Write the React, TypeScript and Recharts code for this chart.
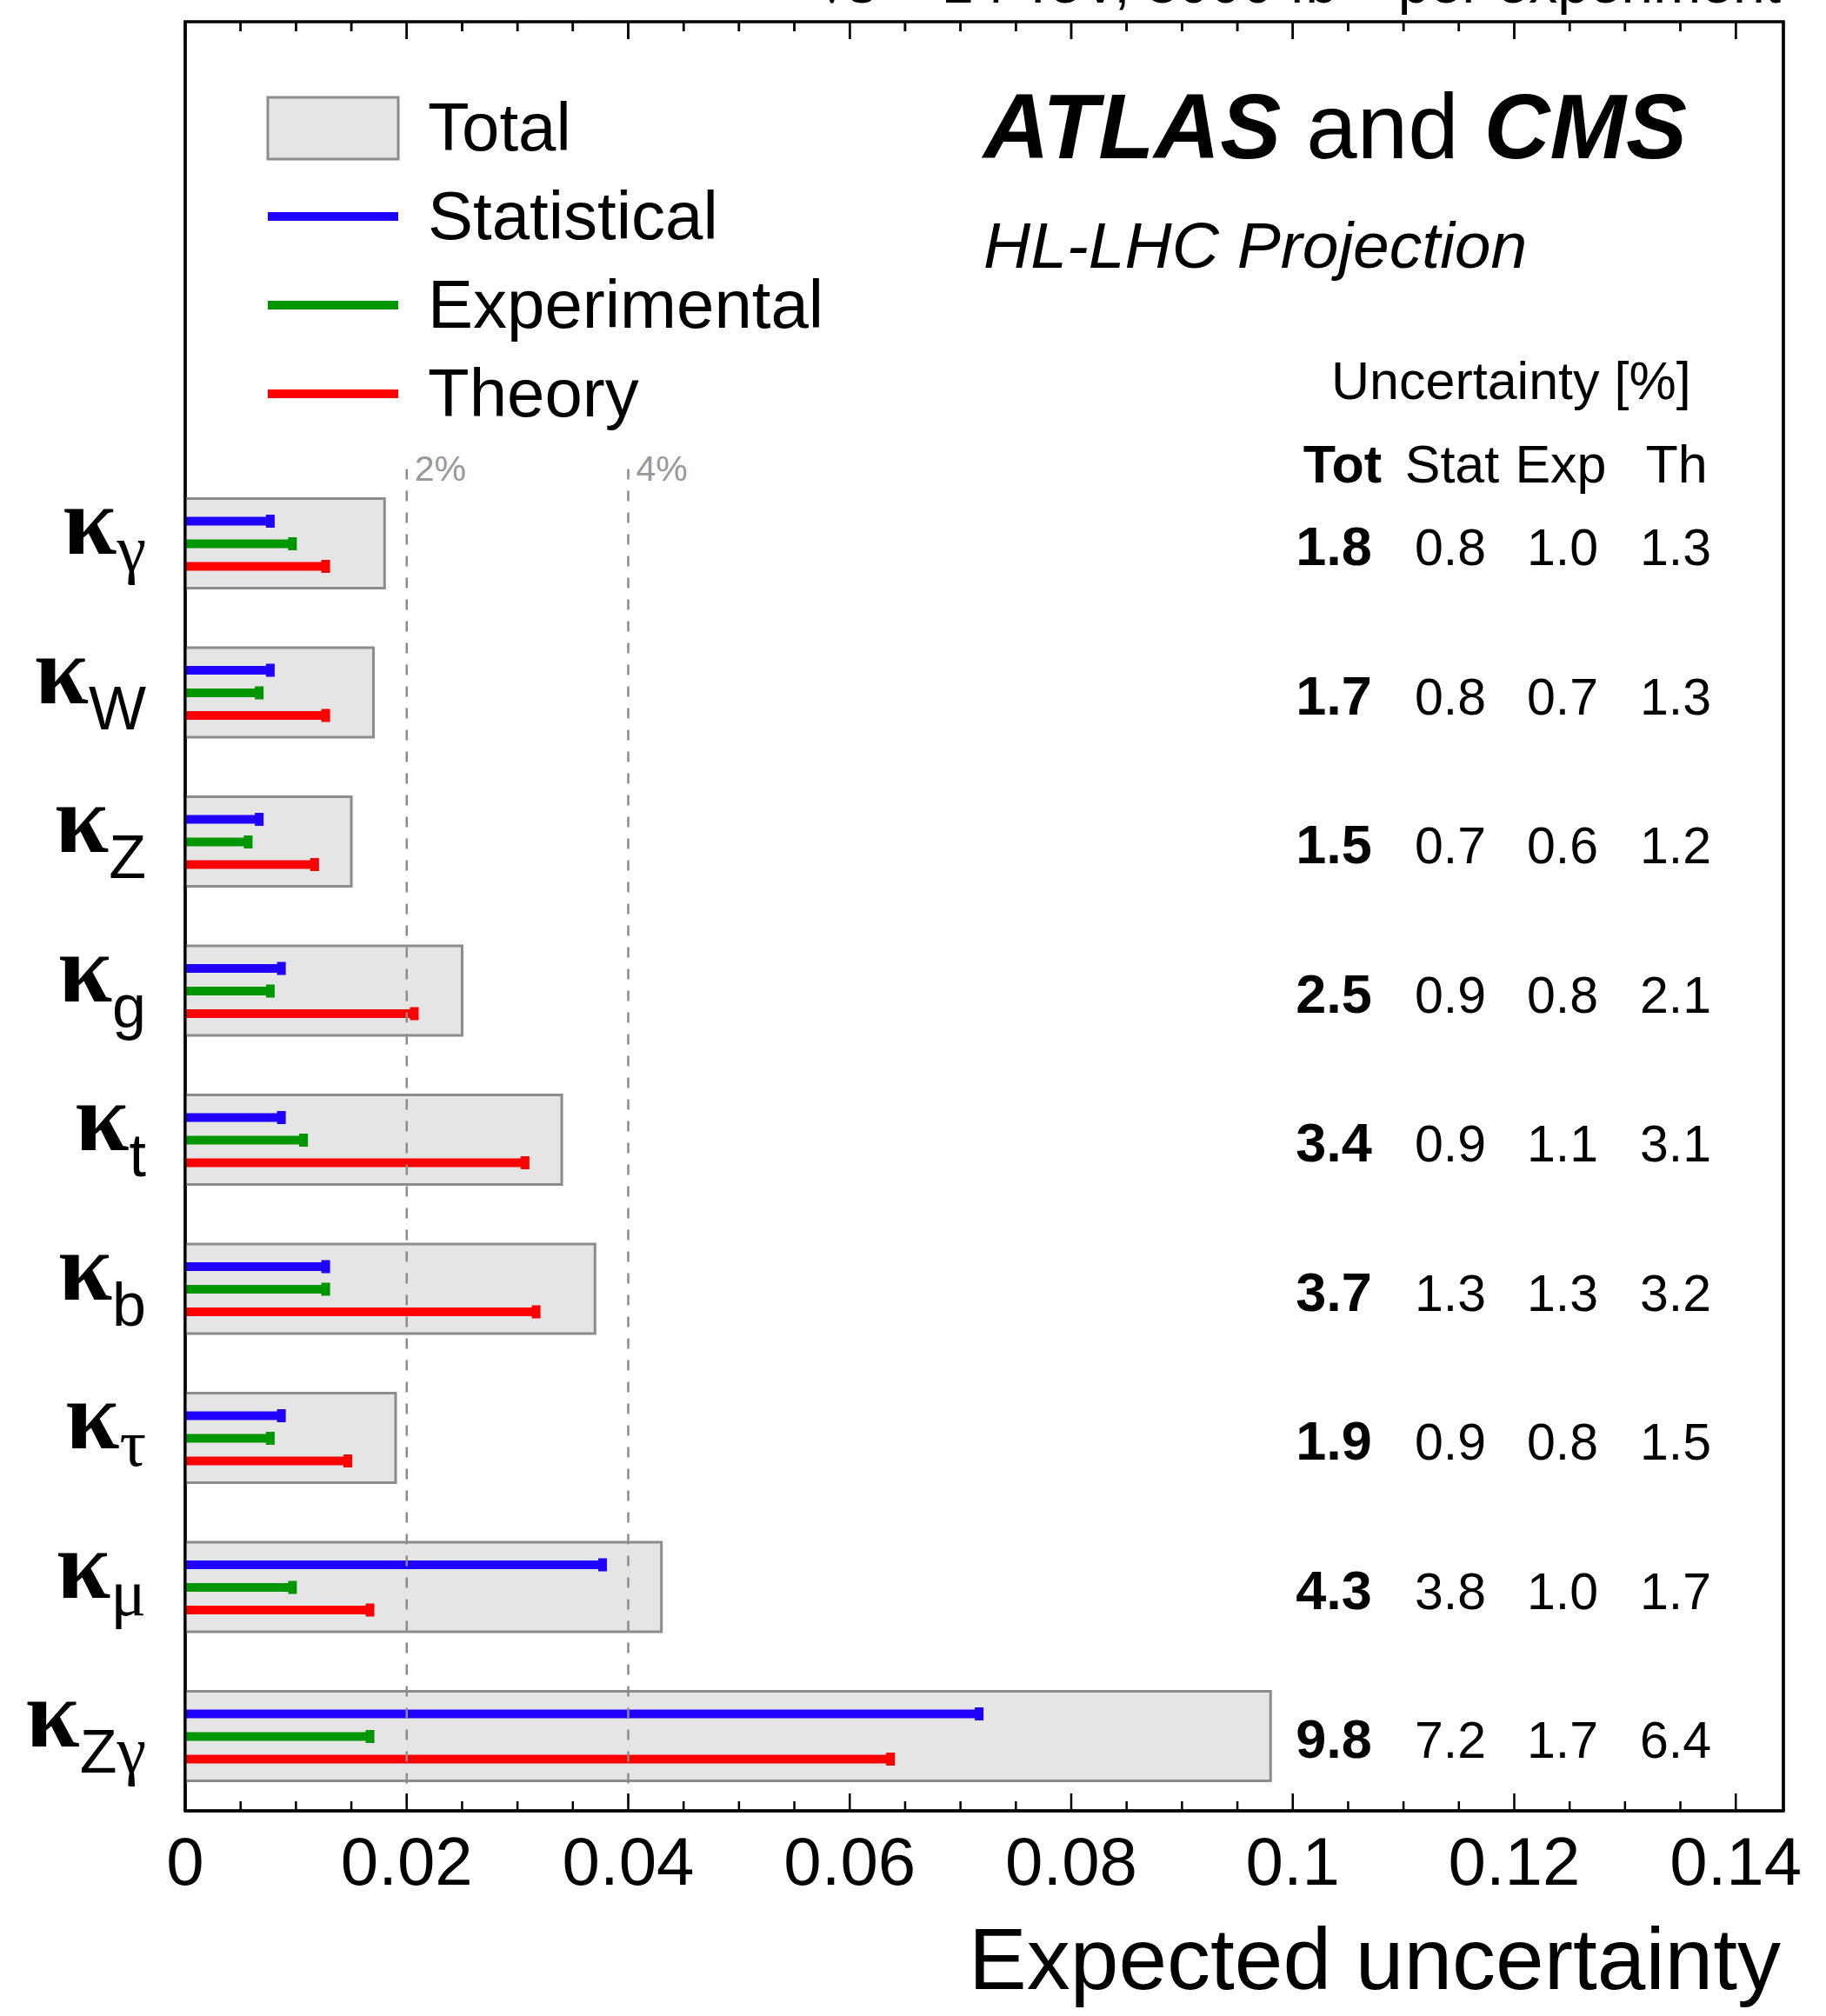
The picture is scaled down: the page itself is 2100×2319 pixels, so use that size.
import React from 'react';
import {
  ComposedChart,
  Bar,
  Scatter,
  XAxis,
  YAxis,
  ReferenceLine,
  ReferenceDot,
  ReferenceArea,
  Legend,
  Label,
} from 'recharts';

// Couplings, top to bottom, and their expected uncertainties in percent
const COUPLINGS = ['γ', 'W', 'Z', 'g', 't', 'b', 'τ', 'μ', 'Zγ'];
const TOTAL = [1.8, 1.7, 1.5, 2.5, 3.4, 3.7, 1.9, 4.3, 9.8];
const STAT = [0.8, 0.8, 0.7, 0.9, 0.9, 1.3, 0.9, 3.8, 7.2];
const EXPERIMENTAL = [1.0, 0.7, 0.6, 0.8, 1.1, 1.3, 0.8, 1.0, 1.7];
const THEORY = [1.3, 1.3, 1.2, 2.1, 3.1, 3.2, 1.5, 1.7, 6.4];

const MAJOR_TICKS = [0, 0.02, 0.04, 0.06, 0.08, 0.1, 0.12, 0.14];
const MAJOR_TICK_LABELS = ['0', '0.02', '0.04', '0.06', '0.08', '0.1', '0.12', '0.14'];
const GUIDES = [0.02, 0.04];
const GUIDE_LABELS = ['2%', '4%'];

const LEGEND_ITEMS = [
  { name: 'Total', kind: 'box', color: '#e5e5e5' },
  { name: 'Statistical', kind: 'line', color: '#2000ff' },
  { name: 'Experimental', kind: 'line', color: '#009600' },
  { name: 'Theory', kind: 'line', color: '#ff0000' },
];

const X_MAX = 0.1443;
const Y_MAX = 12;
const GUIDE_TOP = 9;

// chart geometry
const CHART_W = 2100;
const CHART_H = 2319;
const MARGIN_TOP = 25;
const X_AXIS_H = 236;
const PLOT_H = CHART_H - MARGIN_TOP - X_AXIS_H;
const MAJOR_LEN = 20;
const MINOR_LEN = 11;

const SANS = '"Liberation Sans", Arial, Helvetica, sans-serif';
const SERIF = '"Liberation Serif", "Times New Roman", serif';
const BLUE = LEGEND_ITEMS[1].color;
const GREEN = LEGEND_ITEMS[2].color;
const RED = LEGEND_ITEMS[3].color;

// one row per coupling, placed on unit slots counted up from the bottom axis
const ROW_POS = COUPLINGS.map((_, i) => COUPLINGS.length - i - 0.5);
const rows = COUPLINGS.map((c, i) => ({
  name: c,
  pos: ROW_POS[i],
  total: TOTAL[i] / 100,
  stat: STAT[i] / 100,
  exp: EXPERIMENTAL[i] / 100,
  th: THEORY[i] / 100,
}));

// major ticks every 0.02, three minor ticks in between
const ALL_TICKS: number[] = MAJOR_TICKS.flatMap((t, i) =>
  i < MAJOR_TICKS.length - 1
    ? [0, 1, 2, 3].map((k) => Number((t + (k * (MAJOR_TICKS[1] - MAJOR_TICKS[0])) / 4).toFixed(4)))
    : [t]
);

const majorIndex = (v: number) => MAJOR_TICKS.findIndex((t) => Math.abs(t - v) < 1e-7);
const rowIndex = (v: number) => ROW_POS.findIndex((p) => Math.abs(p - v) < 1e-7);
const isGreek = (ch: string) => /[\u0370-\u03ff]/.test(ch);

// anchor points of the tick marks along the top frame
const topTickPoints = ALL_TICKS.map((t) => ({ total: t, pos: Y_MAX, major: majorIndex(t) >= 0 }));

// inward tick mark on the bottom frame with its label underneath
function XTick(props: any) {
  const { x, y, payload } = props;
  const m = majorIndex(payload.value);
  return (
    <g>
      <line x1={x} x2={x} y1={y} y2={y - (m >= 0 ? MAJOR_LEN : MINOR_LEN)} stroke="#000" strokeWidth={2.5} />
      {m >= 0 && (
        <text x={x} y={y + 85} textAnchor="middle" fontSize={78} fontFamily={SANS} fill="#000">
          {MAJOR_TICK_LABELS[m]}
        </text>
      )}
    </g>
  );
}

function TopTickMark(props: any) {
  const { cx, cy, payload } = props;
  const len = payload && payload.major ? MAJOR_LEN : MINOR_LEN;
  return <line x1={cx} x2={cx} y1={cy} y2={cy + len} stroke="#000" strokeWidth={2.5} />;
}

function CouplingTick(props: any) {
  const { x, y, payload } = props;
  const idx = rowIndex(payload.value);
  if (idx < 0) return null;
  const parts = Array.from(COUPLINGS[idx]);
  const allGreek = parts.every(isGreek);
  return (
    <text x={x - 45} y={y + 12} textAnchor="end" fill="#000">
      <tspan fontFamily={SERIF} fontWeight="bold" fontSize={112}>
        κ
      </tspan>
      {parts.map((ch, k) => (
        <tspan
          key={k}
          dy={k === 0 ? (allGreek ? 20 : 30) : 0}
          fontFamily={isGreek(ch) ? SERIF : SANS}
          fontSize={isGreek(ch) ? 76 : 70}
        >
          {ch}
        </tspan>
      ))}
    </text>
  );
}

// numeric table drawn next to the right frame, one line per coupling
function ValuesTick(props: any) {
  const { x, y, payload } = props;
  const idx = rowIndex(payload.value);
  if (idx < 0) return null;
  const cols = [
    { dx: -517, v: TOTAL[idx], bold: true },
    { dx: -383, v: STAT[idx], bold: false },
    { dx: -254, v: EXPERIMENTAL[idx], bold: false },
    { dx: -124, v: THEORY[idx], bold: false },
  ];
  return (
    <g>
      {cols.map((c, k) => (
        <text
          key={k}
          x={x + c.dx}
          y={y + 25}
          textAnchor="middle"
          fontFamily={SANS}
          fontWeight={c.bold ? 'bold' : 'normal'}
          fontSize={c.bold ? 63 : 59}
          fill="#000"
        >
          {c.v.toFixed(1)}
        </text>
      ))}
    </g>
  );
}

function TotalBox(props: any) {
  const { x, y, width, height } = props;
  return <rect x={x} y={y} width={width} height={height} fill="#e5e5e5" stroke="#8c8c8c" strokeWidth={3} />;
}

function Whisker(props: any) {
  const { x, y, width, height, fill } = props;
  const cy = y + height / 2;
  return (
    <g>
      <rect x={x} y={y} width={Math.max(width, 0)} height={height} fill={fill} />
      <rect x={x + width - 9} y={cy - 7.5} width={10} height={15} fill={fill} />
    </g>
  );
}

function LegendGraphic() {
  return (
    <svg width={720} height={420}>
      {LEGEND_ITEMS.map((it, i) => {
        const cy = 52 + i * 102;
        return (
          <g key={it.name}>
            {it.kind === 'box' ? (
              <rect x={18} y={cy - 35} width={150} height={71} fill={it.color} stroke="#8c8c8c" strokeWidth={3} />
            ) : (
              <rect x={18} y={cy - 5} width={150} height={10} fill={it.color} />
            )}
            <text x={202} y={cy + 26} fontFamily={SANS} fontSize={78} fill="#000">
              {it.name}
            </text>
          </g>
        );
      })}
    </svg>
  );
}

function AxisTitle(props: any) {
  const vb = props.viewBox;
  return (
    <text x={vb.x + vb.width - 3} y={vb.y + 205} textAnchor="end" fontFamily={SANS} fontSize={100} fill="#000">
      Expected uncertainty
    </text>
  );
}

export default function App() {
  const frame = { stroke: '#000', strokeWidth: 3 };
  const unitsPerPx = Y_MAX / PLOT_H;
  return (
    <div style={{ position: 'absolute', left: 0, top: 0, width: CHART_W, height: CHART_H, background: '#fff' }}>
      <ComposedChart
        width={CHART_W}
        height={CHART_H}
        data={rows}
        layout="vertical"
        barGap={16}
        margin={{ top: MARGIN_TOP, right: 0, bottom: 0, left: 0 }}
      >
        <XAxis
          type="number"
          dataKey="total"
          domain={[0, X_MAX]}
          allowDataOverflow
          ticks={ALL_TICKS}
          interval={0}
          tickLine={false}
          tickSize={0}
          tickMargin={0}
          height={X_AXIS_H}
          axisLine={frame}
          tick={<XTick />}
        >
          <Label content={<AxisTitle />} />
        </XAxis>
        <YAxis
          yAxisId="tot"
          type="number"
          dataKey="pos"
          domain={[0, Y_MAX]}
          reversed
          allowDataOverflow
          ticks={ROW_POS}
          interval={0}
          width={213}
          tickLine={false}
          tickSize={0}
          tickMargin={0}
          axisLine={frame}
          tick={<CouplingTick />}
        />
        <YAxis yAxisId="comp" type="number" dataKey="pos" domain={[0, Y_MAX]} reversed allowDataOverflow hide width={0} />
        <YAxis
          yAxisId="vals"
          orientation="right"
          type="number"
          dataKey="pos"
          domain={[0, Y_MAX]}
          reversed
          allowDataOverflow
          ticks={ROW_POS}
          interval={0}
          width={49}
          tickLine={false}
          tickSize={0}
          tickMargin={0}
          axisLine={frame}
          tick={<ValuesTick />}
        />

        <Bar yAxisId="tot" dataKey="total" name="Total" barSize={103} fill="#e5e5e5" shape={<TotalBox />} isAnimationActive={false} />
        <Bar yAxisId="comp" dataKey="stat" name="Statistical" barSize={10} fill={BLUE} shape={<Whisker />} isAnimationActive={false} />
        <Bar yAxisId="comp" dataKey="exp" name="Experimental" barSize={10} fill={GREEN} shape={<Whisker />} isAnimationActive={false} />
        <Bar yAxisId="comp" dataKey="th" name="Theory" barSize={10} fill={RED} shape={<Whisker />} isAnimationActive={false} />

        {GUIDES.map((g) => (
          <ReferenceLine
            key={`guide-${g}`}
            yAxisId="tot"
            segment={[
              { x: g, y: GUIDE_TOP },
              { x: g, y: 0 },
            ]}
            stroke="#8c8c8c"
            strokeWidth={2.5}
            strokeDasharray="12 13"
          />
        ))}
        {GUIDES.map((g, i) => (
          <ReferenceDot
            key={`guide-label-${g}`}
            yAxisId="tot"
            x={g}
            y={GUIDE_TOP}
            r={0}
            shape={(p: any) => (
              <text x={p.cx + 9} y={p.cy + 13} fontFamily={SANS} fontSize={41} fill="#999">
                {GUIDE_LABELS[i]}
              </text>
            )}
          />
        ))}

        {/* inward tick marks hanging from the top frame */}
        {ALL_TICKS.map((t) => (
          <ReferenceLine
            key={`top-tick-${t}`}
            yAxisId="tot"
            ifOverflow="visible"
            segment={[
              { x: t, y: Y_MAX },
              { x: t, y: Y_MAX - (majorIndex(t) >= 0 ? MAJOR_LEN : MINOR_LEN) * unitsPerPx },
            ]}
            stroke="#000"
            strokeWidth={2.5}
          />
        ))}
        <Scatter
          yAxisId="tot"
          data={topTickPoints}
          dataKey="pos"
          legendType="none"
          shape={<TopTickMark />}
          isAnimationActive={false}
        />

        {/* plot frame */}
        <ReferenceArea yAxisId="tot" x1={0} x2={X_MAX} y1={0} y2={Y_MAX} fill="none" stroke="#000" strokeWidth={3.5} />

        <Legend
          layout="vertical"
          align="center"
          verticalAlign="middle"
          content={() => <LegendGraphic />}
          wrapperStyle={{ left: 290, top: 95, width: 720, height: 420 }}
        />

        <text x={2048} y={3} textAnchor="end" fontFamily={SANS} fontSize={66} fill="#000">
          √s = 14 TeV, 3000 fb
          <tspan dy={-26} fontSize={45}>
            −1
          </tspan>
          <tspan dy={26}> per experiment</tspan>
        </text>
        <text x={1131} y={182} fontFamily={SANS} fontSize={105} fill="#000">
          <tspan fontWeight="bold" fontStyle="italic">
            ATLAS
          </tspan>
          <tspan> and </tspan>
          <tspan fontWeight="bold" fontStyle="italic">
            CMS
          </tspan>
        </text>
        <text x={1131} y={308} fontFamily={SANS} fontStyle="italic" fontSize={75} fill="#000">
          HL-LHC Projection
        </text>
        <text x={1531} y={459} fontFamily={SANS} fontSize={61} fill="#000">
          Uncertainty [%]
        </text>
        <g fontFamily={SANS} fontSize={61} fill="#000" textAnchor="middle">
          <text x={1544} y={555} fontWeight="bold">
            Tot
          </text>
          <text x={1670} y={555}>Stat</text>
          <text x={1795} y={555}>Exp</text>
          <text x={1928} y={555}>Th</text>
        </g>
      </ComposedChart>
    </div>
  );
}
